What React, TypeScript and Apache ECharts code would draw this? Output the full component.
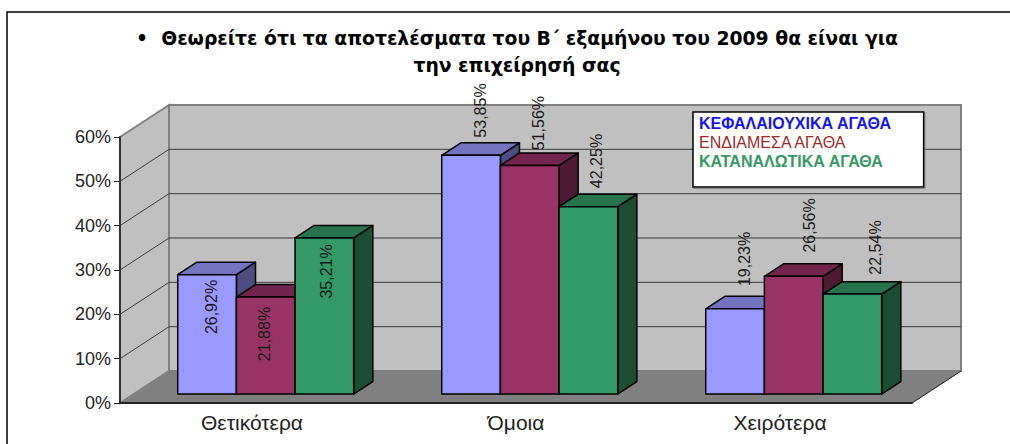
import React, { useEffect, useRef } from "react";
import * as echarts from "echarts";

const titleText = "•  Θεωρείτε ότι τα αποτελέσματα του Β΄ εξαμήνου του 2009 θα είναι για\nτην επιχείρησή σας";
const categories = ["Θετικότερα", "Όμοια", "Χειρότερα"];
const capitalGoods = [26.92, 53.85, 19.23];
const intermediateGoods = [21.88, 51.56, 26.56];
const consumerGoods = [35.21, 42.25, 22.54];
const seriesNames = ["ΚΕΦΑΛΑΙΟΥΧΙΚΑ ΑΓΑΘΑ", "ΕΝΔΙΑΜΕΣΑ ΑΓΑΘΑ", "ΚΑΤΑΝΑΛΩΤΙΚΑ ΑΓΑΘΑ"];
const gridValues = [10, 20, 30, 40, 50];

// Layout of the oblique projection and the hand-placed data labels.
const DEPTH_X = 49;
const DEPTH_Y = -32;
const BAR_FRONT = 0.28;
const BAR_BACK = 0.67;
const BANDS_PER_BAR = 4.5;
const labelOffsets = [
  [[4.7, 32.3], [9, -44.8], [9, -49.8]],
  [[-1, 37], [8.3, -42.4], [15.3, -50.8]],
  [[2.3, 33.5], [8.6, -45.7], [23.6, -46.6]],
];
const faceColors = [
  { front: "#9999FF", top: "#7373BF", side: "#4D4D80" },
  { front: "#993366", top: "#73264D", side: "#4D1A33" },
  { front: "#339966", top: "#26734D", side: "#1A4D33" },
];
const legendColors = ["#1414F5", "#9C2B2B", "#339966"];
const FONT = "'Liberation Sans', Arial, sans-serif";
const TITLE_FONT = "'DejaVu Sans', Verdana, sans-serif";

const formatValue = (v: number) => v.toFixed(2).replace(".", ",") + "%";

function renderWalls(params: any, api: any) {
  const { x, y, width: w, height: h } = params.coordSys;
  const dx = DEPTH_X;
  const dy = DEPTH_Y;
  const frame = { stroke: "#808080", lineWidth: 2 };
  const children: any[] = [
    {
      type: "polygon",
      shape: { points: [[x + dx, y + dy], [x + w + dx, y + dy], [x + w + dx, y + h + dy], [x + dx, y + h + dy]] },
      style: { fill: "#C0C0C0", ...frame },
    },
    {
      type: "polygon",
      shape: { points: [[x, y], [x + dx, y + dy], [x + dx, y + h + dy], [x, y + h]] },
      style: { fill: "#C0C0C0", ...frame },
    },
    {
      type: "polygon",
      shape: { points: [[x, y + h], [x + dx, y + h + dy], [x + w + dx, y + h + dy], [x + w, y + h]] },
      style: { fill: "#808080", stroke: "#808080", lineWidth: 1 },
    },
    {
      type: "line",
      shape: { x1: x + w, y1: y + h, x2: x + w + dx, y2: y + h + dy },
      style: { stroke: "#222222", lineWidth: 1 },
    },
  ];
  gridValues.forEach((v) => {
    const yv = api.coord([0, v])[1];
    children.push({
      type: "polyline",
      shape: { points: [[x, yv], [x + dx, yv + dy], [x + w + dx, yv + dy]] },
      style: { fill: "none", stroke: "#3C3C3C", lineWidth: 1 },
    });
  });
  return { type: "group", children };
}

const renderBar = (seriesIndex: number) => (params: any, api: any) => {
  const value = api.value(1);
  const center = api.coord([api.value(0), value]);
  const y0 = api.coord([api.value(0), 0])[1];
  const band = api.size([1, 0])[0];
  const barW = band / BANDS_PER_BAR;
  const fx = center[0] + DEPTH_X * BAR_FRONT + (seriesIndex - 1.5) * barW;
  const offY = DEPTH_Y * BAR_FRONT;
  const top = center[1] + offY;
  const bottom = y0 + offY;
  const bx = DEPTH_X * (BAR_BACK - BAR_FRONT);
  const by = DEPTH_Y * (BAR_BACK - BAR_FRONT);
  const c = faceColors[seriesIndex];
  const edge = { stroke: "#000000", lineWidth: 1.5, lineJoin: "round" };
  const offset = labelOffsets[seriesIndex][params.dataIndex];
  return {
    type: "group",
    children: [
      {
        type: "polygon",
        shape: { points: [[fx + barW, top], [fx + barW + bx, top + by], [fx + barW + bx, bottom + by], [fx + barW, bottom]] },
        style: { fill: c.side, ...edge },
      },
      {
        type: "polygon",
        shape: { points: [[fx, top], [fx + bx, top + by], [fx + barW + bx, top + by], [fx + barW, top]] },
        style: { fill: c.top, ...edge },
      },
      {
        type: "rect",
        shape: { x: fx, y: top, width: barW, height: bottom - top },
        style: { fill: c.front, ...edge },
      },
      {
        type: "text",
        z2: 100,
        x: fx + barW / 2 + offset[0],
        y: top + offset[1],
        rotation: Math.PI / 2,
        style: {
          text: formatValue(value),
          fill: "#1A1A1A",
          font: `16px ${FONT}`,
          textAlign: "center",
          textVerticalAlign: "middle",
        },
      },
    ],
  };
};

const seriesValues = [capitalGoods, intermediateGoods, consumerGoods];

export default function App() {
  const ref = useRef<HTMLDivElement>(null);
  useEffect(() => {
    if (!ref.current) return;
    const chart = echarts.init(ref.current, undefined, { renderer: "svg" });
    chart.setOption({
      animation: false,
      backgroundColor: "#FFFFFF",
      title: {
        text: titleText,
        left: 512,
        top: 20,
        textAlign: "center",
        textStyle: { fontFamily: TITLE_FONT, fontWeight: "bold", fontSize: 18.8, lineHeight: 27, color: "#000000" },
      },
      grid: { left: 120, top: 137, width: 792, height: 266 },
      xAxis: {
        type: "category",
        data: categories,
        z: 5,
        axisLine: { lineStyle: { color: "#222222", width: 2 } },
        axisTick: { length: 5, lineStyle: { color: "#222222", width: 1 } },
        axisLabel: { fontFamily: FONT, fontSize: 21, color: "#222222", margin: 9 },
      },
      yAxis: {
        type: "value",
        min: 0,
        max: 60,
        interval: 10,
        z: 5,
        splitLine: { show: false },
        axisLine: { show: true, lineStyle: { color: "#333333", width: 2 } },
        axisTick: { show: true, length: 6, lineStyle: { color: "#222222", width: 1 } },
        axisLabel: { formatter: "{value}%", fontFamily: FONT, fontSize: 18, color: "#222222", margin: 9 },
      },
      legend: {
        orient: "vertical",
        left: 693,
        top: 112,
        z: 20,
        selectedMode: false,
        icon: "none",
        itemWidth: 0,
        itemHeight: 0,
        itemGap: 3,
        padding: [3, 32, 18, 1],
        backgroundColor: "#FFFFFF",
        borderColor: "#000000",
        borderWidth: 1.5,
        shadowColor: "#777777",
        shadowOffsetX: 1,
        shadowOffsetY: 1,
        data: seriesNames.map((name, i) => ({
          name,
          icon: "none",
          textStyle: {
            color: legendColors[i],
            fontFamily: FONT,
            fontSize: 16,
            lineHeight: 15,
            fontWeight: i === 1 ? "normal" : "bold",
          },
        })),
      },
      graphic: [
        {
          type: "polyline",
          z: 30,
          shape: { points: [[7, 444], [7, 12], [1010, 12]] },
          style: { fill: "none", stroke: "#000000", lineWidth: 1.5 },
        },
      ],
      series: [
        {
          type: "custom",
          name: "walls",
          coordinateSystem: "cartesian2d",
          clip: false,
          silent: true,
          renderItem: renderWalls,
          data: [[0, 0]],
          z: 1,
        },
        ...seriesValues.map((values, s) => ({
          type: "custom",
          name: seriesNames[s],
          coordinateSystem: "cartesian2d",
          clip: false,
          renderItem: renderBar(s),
          encode: { x: 0, y: 1 },
          data: values.map((v, i) => [i, v]),
          z: 2 + s,
        })),
      ],
    });
    return () => chart.dispose();
  }, []);
  return <div ref={ref} style={{ position: "absolute", left: 0, top: 0, width: 1010, height: 444 }} />;
}
